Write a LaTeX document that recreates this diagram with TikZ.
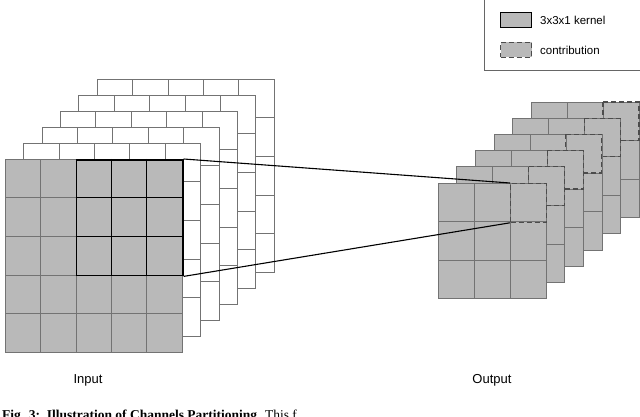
\documentclass[tikz,border=0pt]{standalone}
\usepackage{fontspec}
\setmainfont{Liberation Sans}
\newfontfamily\capfont{Liberation Serif}
\begin{document}
\begin{tikzpicture}[x=1pt,y=-1pt,
  grid/.style={draw=gray!90!black,line width=0.6pt},
  wcell/.style={grid,fill=white},
  gcell/.style={grid,fill=gray!55},
  kernelbox/.style={draw=black,line width=1.6pt},
  contrib/.style={draw=gray!60!black,dash pattern=on 5pt off 3pt,line width=1.3pt},
  lbl/.style={font=\fontsize{13}{15}\selectfont,inner sep=0pt}]
\path[use as bounding box] (0,0) rectangle (640,417);
\clip (0,0) rectangle (640,417);
% input back layers
\foreach \k in {5,4,...,1}{
  \foreach \i in {0,...,4}{\foreach \j in {0,...,4}{
    \draw[wcell] ({5+18.4*\k+35.4*\i},{159-16*\k+38.6*\j}) rectangle ++(35.4,38.6);}}}
% input front
\foreach \i in {0,...,4}{\foreach \j in {0,...,4}{
  \draw[gcell] ({5+35.4*\i},{159+38.6*\j}) rectangle ++(35.4,38.6);}}
\node[kernelbox,minimum width=106.2pt,minimum height=115.8pt,inner sep=0pt,anchor=north west] (kernel) at (75.8,159) {};
\draw[kernelbox,line width=1.2pt] (111.2,159) -- (111.2,274.8) (146.6,159) -- (146.6,274.8)
  (75.8,197.6) -- (182,197.6) (75.8,236.2) -- (182,236.2);
% output layers
\foreach \k in {5,4,...,1}{
  \foreach \i in {0,...,2}{\foreach \j in {0,...,2}{
    \draw[gcell] ({438+18.6*\k+36*\i},{183-16.2*\k+38.5*\j}) rectangle ++(36,38.5);}}
  \draw[contrib] ({438+18.6*\k+72},{183-16.2*\k}) rectangle ++(36,38.5);}
\foreach \i in {0,...,2}{\foreach \j in {0,...,2}{
  \draw[gcell] ({438+36*\i},{183+38.5*\j}) rectangle ++(36,38.5);}}
\node[contrib,minimum width=36pt,minimum height=38.5pt,inner sep=0pt,anchor=north west] (contr) at (510,183) {};
\draw[line width=1.1pt] (kernel.north east) -- (contr.north west);
\draw[line width=1.1pt] (kernel.south east) -- (contr.south west);
% labels
\node[lbl] (inlbl) at (88,380) {Input};
\node[lbl] (outlbl) at (492,380) {Output};
% legend
\node[draw=gray!80!black,line width=0.6pt,minimum width=156pt,minimum height=71pt,inner sep=0pt,anchor=north west] (legend) at (484,-1) {};
\node[draw=black,line width=1.2pt,fill=gray!55,minimum width=31pt,minimum height=15pt,inner sep=0pt] (lk) at (516,20) {};
\node[contrib,fill=gray!55,minimum width=31pt,minimum height=15pt,inner sep=0pt] (lc) at (516,50) {};
\node[anchor=west,font=\fontsize{11.5}{13}\selectfont,inner sep=0pt] (lkt) at (540,20) {3x3x1 kernel};
\node[anchor=west,font=\fontsize{11.5}{13}\selectfont,inner sep=0pt] (lct) at (540,50) {contribution};
% caption (cut off, as in the reference)
\node[anchor=base west,inner sep=0pt,font=\capfont\fontsize{13.5}{15}\selectfont] (cap) at (2,419)
  {\textbf{Fig. 3:\ \ Illustration of Channels Partitioning.} This f};
\end{tikzpicture}
\end{document}
